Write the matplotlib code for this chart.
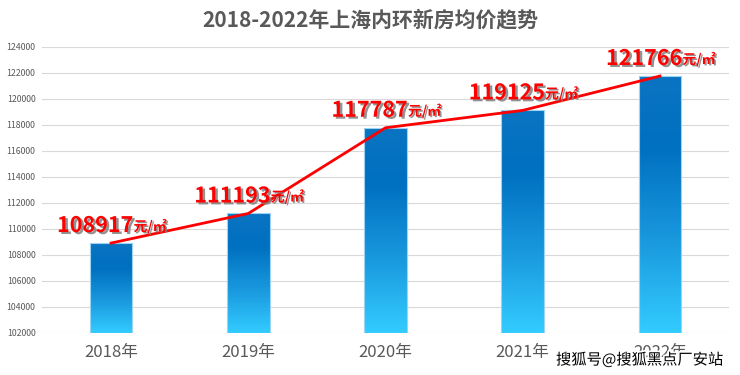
import numpy as np
import matplotlib.pyplot as plt
import matplotlib.patheffects as pe
from matplotlib.colors import LinearSegmentedColormap

plt.rcParams['font.family'] = ['Noto Sans CJK SC', 'DejaVu Sans']

# data
years = ['2018年', '2019年', '2020年', '2021年', '2022年']
prices = [108917, 111193, 117787, 119125, 121766]
y_ticks = list(range(102000, 124001, 2000))

fig = plt.figure(figsize=(7.4, 3.75), dpi=100)
ax = fig.add_axes([42.4 / 740, 42 / 375, 686.2 / 740, 286 / 375])

x = np.arange(len(years))
ymin, ymax = 102000, 124000

# gradient bars (dark blue top -> light cyan bottom)
cmap = LinearSegmentedColormap.from_list(
    'bar', [(0.0, '#33CCFF'), (0.35, '#1A9ADF'), (0.72, '#0070C0'), (1.0, '#0A74C2')])
grad = np.linspace(0, 1, 256).reshape(-1, 1)
bw = 0.31
bars = ax.bar(x, [p - ymin for p in prices], bottom=ymin, width=bw,
              color='none', edgecolor='#9CD3F2', linewidth=0.8, zorder=3)
for b in bars:
    x0, y0 = b.get_x(), b.get_y()
    im = ax.imshow(grad, cmap=cmap, origin='lower', aspect='auto',
                   extent=[x0, x0 + b.get_width(), y0, y0 + b.get_height()],
                   zorder=2)
    im.set_clip_path(b)

ax.set_xlim(-0.5, len(years) - 0.5)
ax.set_ylim(ymin, ymax)

# trend line
ax.plot(x, prices, color='#FF0000', linewidth=2, zorder=4)

# value labels
shadow = [pe.withSimplePatchShadow(offset=(1.8, -1.4), shadow_rgbFace='#808080', alpha=0.85)]
for xi, p in zip(x, prices):
    t = ax.annotate(str(p), xy=(xi, p), xytext=(-54, 11), textcoords='offset pixels',
                    ha='left', va='baseline', fontsize=15.5, fontweight='bold',
                    color='#FF0000', zorder=6, path_effects=shadow)
    ax.annotate('元/㎡', xy=(1, 0), xycoords=t, xytext=(0, 2), textcoords='offset pixels',
                ha='left', va='bottom', fontsize=10, fontweight='bold',
                color='#FF0000', zorder=6,
                path_effects=[pe.withSimplePatchShadow(offset=(1.2, -1.0),
                                                        shadow_rgbFace='#808080', alpha=0.85)])

# axes styling
ax.set_yticks(y_ticks)
ax.set_yticklabels([str(v) for v in y_ticks], fontsize=6.3, color='#595959')
ax.set_xticks(x)
ax.set_xticklabels(years, fontsize=12, color='#595959')
ax.tick_params(axis='y', length=0, pad=5)
ax.tick_params(axis='x', length=0, pad=8)
ax.grid(axis='y', color='#D9D9D9', linewidth=0.8, zorder=0)
ax.set_axisbelow(True)
for s in ax.spines.values():
    s.set_visible(False)

fig.text(370 / 740, 1 - 20 / 375, '2018-2022年上海内环新房均价趋势', ha='center', va='center',
         fontsize=15, fontweight='bold', color='#595959')

# watermark
fig.text(723 / 740, 1 - 360 / 375, '搜狐号@搜狐黑点厂安站', ha='right', va='center',
         fontsize=11, color='black',
         path_effects=[pe.withStroke(linewidth=2.5, foreground='white')])

fig.savefig('out.png', dpi=100)
